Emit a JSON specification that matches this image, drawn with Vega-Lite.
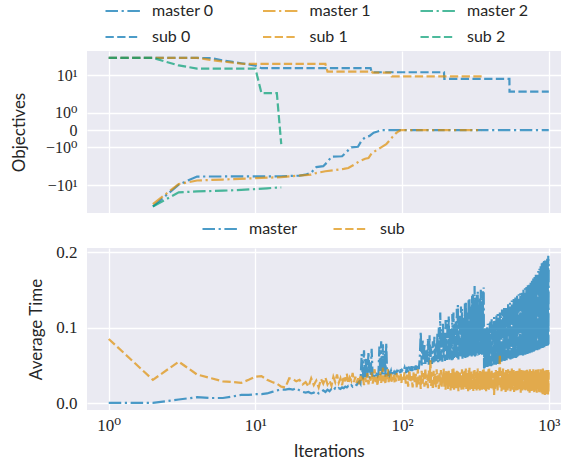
{
  "$schema": "https://vega.github.io/schema/vega-lite/v6.json",
  "background": "white",
  "padding": {"left": 10, "top": 3, "right": 0, "bottom": 0},
  "spacing": 35,
  "bounds": "flush",
  "config": {
    "view": {"fill": "#EAEAF2", "stroke": null},
    "axis": {
      "grid": true, "gridColor": "#ffffff", "gridWidth": 1.3, "domain": false, "ticks": false, "tickSize": 0,
      "labelFont": "Liberation Serif, DejaVu Serif", "labelFontSize": 17, "labelColor": "#262626", "labelPadding": 10,
      "labelOverlap": false, "labelFlush": false, "labelBound": false,
      "titleFont": "Lato", "titleFontSize": 17, "titleFontWeight": "normal", "titleColor": "#262626"
    },
    "legend": {
      "labelFont": "Lato", "labelFontSize": 16, "labelColor": "#262626", "symbolType": "stroke", "symbolSize": 1225,
      "symbolStrokeWidth": 2.2, "symbolOpacity": 0.7, "labelOffset": 10, "rowPadding": 10,
      "clipHeight": 16, "padding": 0, "labelLimit": 300
    }
  },
  "resolve": {"scale": {"color": "independent", "strokeDash": "independent", "x": "independent", "y": "independent"}},
  "vconcat": [
    {
      "width": 476,
      "height": 162,
      "data": {"values": [
        {"s": "s0", "x": 1, "y": 23.8}, {"s": "s0", "x": 2, "y": 23.8}, {"s": "s0", "x": 3, "y": 23.8}, {"s": "s0", "x": 4, "y": 23.8},
        {"s": "s0", "x": 5, "y": 23.6}, {"s": "s0", "x": 6, "y": 21}, {"s": "s0", "x": 7, "y": 19.5}, {"s": "s0", "x": 8, "y": 18.3},
        {"s": "s0", "x": 9, "y": 17.2}, {"s": "s0", "x": 10, "y": 16.2}, {"s": "s0", "x": 11, "y": 14.3}, {"s": "s0", "x": 61, "y": 14.3},
        {"s": "s0", "x": 62, "y": 11.65}, {"s": "s0", "x": 193, "y": 11.65}, {"s": "s0", "x": 194, "y": 8.25}, {"s": "s0", "x": 539, "y": 8.25},
        {"s": "s0", "x": 540, "y": 4.16}, {"s": "s0", "x": 1000, "y": 4.16},
        {"s": "s1", "x": 1, "y": 23.8}, {"s": "s1", "x": 2, "y": 23.8}, {"s": "s1", "x": 3, "y": 23.8}, {"s": "s1", "x": 4, "y": 23.8},
        {"s": "s1", "x": 5, "y": 21.5}, {"s": "s1", "x": 6, "y": 20}, {"s": "s1", "x": 7, "y": 18.8}, {"s": "s1", "x": 8, "y": 17.9},
        {"s": "s1", "x": 9, "y": 17.7}, {"s": "s1", "x": 30, "y": 17.7}, {"s": "s1", "x": 31, "y": 12.0}, {"s": "s1", "x": 62, "y": 12.0},
        {"s": "s1", "x": 63, "y": 11.4}, {"s": "s1", "x": 84, "y": 11.4}, {"s": "s1", "x": 85, "y": 9.4}, {"s": "s1", "x": 350, "y": 9.4},
        {"s": "s2", "x": 1, "y": 23.8}, {"s": "s2", "x": 2, "y": 23.8}, {"s": "s2", "x": 3, "y": 16.4}, {"s": "s2", "x": 4, "y": 14.0},
        {"s": "s2", "x": 10, "y": 14.0}, {"s": "s2", "x": 11, "y": 3.8}, {"s": "s2", "x": 14, "y": 3.8}, {"s": "s2", "x": 15, "y": -0.75},
        {"s": "m0", "x": 2, "y": -29.1}, {"s": "m0", "x": 3, "y": -9.8}, {"s": "m0", "x": 4, "y": -6.4}, {"s": "m0", "x": 10, "y": -6.35},
        {"s": "m0", "x": 15, "y": -6.3}, {"s": "m0", "x": 20, "y": -6.1}, {"s": "m0", "x": 22, "y": -5.8}, {"s": "m0", "x": 24, "y": -5.2},
        {"s": "m0", "x": 26, "y": -3.8}, {"s": "m0", "x": 29, "y": -3.6}, {"s": "m0", "x": 31, "y": -2.8}, {"s": "m0", "x": 33, "y": -2.0},
        {"s": "m0", "x": 39, "y": -1.95}, {"s": "m0", "x": 42, "y": -1.4}, {"s": "m0", "x": 45, "y": -1.0}, {"s": "m0", "x": 50, "y": -0.95},
        {"s": "m0", "x": 53, "y": -0.5}, {"s": "m0", "x": 56, "y": -0.32}, {"s": "m0", "x": 60, "y": -0.25}, {"s": "m0", "x": 64, "y": -0.1},
        {"s": "m0", "x": 68, "y": -0.05}, {"s": "m0", "x": 72, "y": 0}, {"s": "m0", "x": 1000, "y": 0},
        {"s": "m1", "x": 2, "y": -26}, {"s": "m1", "x": 3, "y": -9.5}, {"s": "m1", "x": 4, "y": -7.9}, {"s": "m1", "x": 6, "y": -7.5},
        {"s": "m1", "x": 10, "y": -7.0}, {"s": "m1", "x": 15, "y": -6.6}, {"s": "m1", "x": 19, "y": -6.15}, {"s": "m1", "x": 24, "y": -5.8},
        {"s": "m1", "x": 26, "y": -5.3}, {"s": "m1", "x": 30, "y": -4.8}, {"s": "m1", "x": 35, "y": -4.5}, {"s": "m1", "x": 40, "y": -4.2},
        {"s": "m1", "x": 43, "y": -4.0}, {"s": "m1", "x": 47, "y": -3.3}, {"s": "m1", "x": 51, "y": -2.7}, {"s": "m1", "x": 56, "y": -2.3},
        {"s": "m1", "x": 59, "y": -2.2}, {"s": "m1", "x": 62, "y": -1.6}, {"s": "m1", "x": 67, "y": -1.25}, {"s": "m1", "x": 72, "y": -1.0},
        {"s": "m1", "x": 78, "y": -0.75}, {"s": "m1", "x": 82, "y": -0.5}, {"s": "m1", "x": 86, "y": -0.3}, {"s": "m1", "x": 91, "y": -0.12},
        {"s": "m1", "x": 95, "y": -0.04}, {"s": "m1", "x": 98, "y": 0}, {"s": "m1", "x": 350, "y": 0},
        {"s": "m2", "x": 2, "y": -29.1}, {"s": "m2", "x": 3, "y": -14.5}, {"s": "m2", "x": 4, "y": -13.8}, {"s": "m2", "x": 6, "y": -13.3},
        {"s": "m2", "x": 8, "y": -12.8}, {"s": "m2", "x": 10, "y": -12.3}, {"s": "m2", "x": 12, "y": -11.8}, {"s": "m2", "x": 14, "y": -11.4},
        {"s": "m2", "x": 15, "y": -11.3}
      ]},
      "mark": {"type": "line", "strokeWidth": 2.2, "opacity": 0.7},
      "encoding": {
        "x": {"field": "x", "type": "quantitative", "scale": {"type": "log", "domain": [0.711, 1250], "nice": false},
              "axis": {"values": [1, 10, 100, 1000], "labels": false, "title": null}},
        "y": {"field": "y", "type": "quantitative", "scale": {"type": "symlog", "constant": 0.79, "domain": [-40, 33.4], "nice": false, "zero": false},
              "axis": {"values": [-10, -1, 0, 1, 10], "labelExpr": "datum.value == 10 ? '10¹' : datum.value == 1 ? '10⁰' : datum.value == 0 ? '0' : datum.value == -1 ? '−10⁰' : '−10¹'",
                       "labelFontSize": 16, "title": "Objectives", "titleX": -58.5,
                       "encode": {"labels": {"update": {"dy": {"signal": "datum.value == 1 ? -2.5 : datum.value == -1 ? 2.5 : 0"}}}}}},
        "color": {"field": "s", "type": "nominal",
                  "scale": {"domain": ["m0", "s0", "m1", "s1", "m2", "s2"], "range": ["#0173b2", "#0173b2", "#de8f05", "#de8f05", "#029e73", "#029e73"]},
                  "legend": {"title": null, "orient": "none", "legendX": 17, "legendY": -48, "columns": 3, "columnPadding": 47.5,
                             "labelExpr": "(substring(datum.label,0,1) == 'm' ? 'master ' : 'sub ') + substring(datum.label,1)"}},
        "strokeDash": {"field": "s", "type": "nominal",
                       "scale": {"domain": ["m0", "s0", "m1", "s1", "m2", "s2"], "range": [[12.5, 3.6, 2.2, 3.6], [8.3, 3.4], [12.5, 3.6, 2.2, 3.6], [8.3, 3.4], [12.5, 3.6, 2.2, 3.6], [8.3, 3.4]]},
                       "legend": {"title": null, "orient": "none", "legendX": 17, "legendY": -48, "columns": 3, "columnPadding": 47.5,
                                  "labelExpr": "(substring(datum.label,0,1) == 'm' ? 'master ' : 'sub ') + substring(datum.label,1)"}}
      }
    },
    {
      "width": 476,
      "height": 162,
      "data": {"values": [
        {"x":1,"m":0.0005,"s":0.085},{"x":2,"m":0.0005,"s":0.031},{"x":3,"m":0.005,"s":0.055},{"x":4,"m":0.008,"s":0.038},{"x":5,"m":0.007,"s":0.033},
        {"x":6,"m":0.007,"s":0.029},{"x":7,"m":0.009,"s":0.028},{"x":8,"m":0.011,"s":0.027},{"x":9,"m":0.011,"s":0.031},{"x":10,"m":0.012,"s":0.035},
        {"x":11,"m":0.012,"s":0.036},{"x":12,"m":0.013,"s":0.031},{"x":13,"m":0.015,"s":0.028},{"x":14,"m":0.017,"s":0.026},{"x":15,"m":0.018,"s":0.022},
        {"x":16,"m":0.018,"s":0.021},{"x":17,"m":0.019,"s":0.033},{"x":18,"m":0.018,"s":0.032},{"x":19,"m":0.02,"s":0.029},{"x":20,"m":0.017,"s":0.031},
        {"x":21,"m":0.015,"s":0.025},{"x":22,"m":0.014,"s":0.028},{"x":23,"m":0.015,"s":0.022},{"x":24,"m":0.013,"s":0.033},{"x":25,"m":0.014,"s":0.024},
        {"x":26,"m":0.016,"s":0.03},{"x":27,"m":0.013,"s":0.021},{"x":28,"m":0.015,"s":0.032},{"x":29,"m":0.017,"s":0.026},{"x":30,"m":0.015,"s":0.034},
        {"x":31,"m":0.018,"s":0.025},{"x":32,"m":0.016,"s":0.03},{"x":33,"m":0.019,"s":0.023},{"x":34,"m":0.017,"s":0.035},{"x":35,"m":0.02,"s":0.028},
        {"x":36,"m":0.018,"s":0.038},{"x":37,"m":0.02,"s":0.027},{"x":38,"m":0.019,"s":0.033},{"x":39,"m":0.021,"s":0.024},{"x":40,"m":0.02,"s":0.036},
        {"x":41,"m":0.022,"s":0.029},{"x":42,"m":0.021,"s":0.039},{"x":43,"m":0.023,"s":0.026},{"x":44,"m":0.022,"s":0.034},{"x":45,"m":0.024,"s":0.03},
        {"x":46,"m":0.022,"s":0.04},{"x":47,"m":0.024,"s":0.028},{"x":48,"m":0.025,"s":0.035},{"x":49,"m":0.024,"s":0.027},{"x":50,"m":0.027,"s":0.033},
        {"x":51,"m":0.029,"s":0.025},{"x":52,"m":0.026,"s":0.038},{"x":53,"m":0.065,"s":0.03},{"x":54,"m":0.03,"s":0.036},{"x":55,"m":0.07,"s":0.024},
        {"x":56,"m":0.032,"s":0.034},{"x":57,"m":0.06,"s":0.028},{"x":58,"m":0.035,"s":0.04},{"x":59,"m":0.068,"s":0.025},{"x":60,"m":0.033,"s":0.035},
        {"x":61,"m":0.036,"s":0.03},{"x":62,"m":0.072,"s":0.041},{"x":63,"m":0.035,"s":0.026},{"x":64,"m":0.04,"s":0.033},{"x":65,"m":0.037,"s":0.045},
        {"x":66,"m":0.034,"s":0.028},{"x":67,"m":0.038,"s":0.036},{"x":68,"m":0.036,"s":0.023},{"x":69,"m":0.04,"s":0.038},{"x":70,"m":0.075,"s":0.03},
        {"x":71,"m":0.037,"s":0.042},{"x":72,"m":0.082,"s":0.027},{"x":73,"m":0.036,"s":0.035},{"x":74,"m":0.078,"s":0.047},{"x":75,"m":0.038,"s":0.029},
        {"x":76,"m":0.07,"s":0.037},{"x":77,"m":0.035,"s":0.025},{"x":78,"m":0.08,"s":0.04},{"x":79,"m":0.04,"s":0.032},{"x":80,"m":0.038,"s":0.045},
        {"x":81,"m":0.041,"s":0.028},{"x":82,"m":0.037,"s":0.036},{"x":83,"m":0.04,"s":0.03},{"x":84,"m":0.043,"s":0.041},{"x":85,"m":0.038,"s":0.027},
        {"x":86,"m":0.042,"s":0.035},{"x":87,"m":0.039,"s":0.031},{"x":88,"m":0.041,"s":0.038},{"x":89,"m":0.038,"s":0.026},{"x":90,"m":0.043,"s":0.034},
        {"x":91,"m":0.04,"s":0.029},{"x":92,"m":0.042,"s":0.04},{"x":93,"m":0.039,"s":0.032},{"x":94,"m":0.044,"s":0.037},{"x":95,"m":0.041,"s":0.028},
        {"x":96,"m":0.043,"s":0.036},{"x":97,"m":0.04,"s":0.03},{"x":98,"m":0.045,"s":0.039},{"x":99,"m":0.041,"s":0.027},{"x":100,"m":0.044,"s":0.035},
        {"x":102,"m":0.042,"s":0.03},{"x":104,"m":0.047,"s":0.041},{"x":106,"m":0.04,"s":0.026},{"x":108,"m":0.048,"s":0.038},{"x":110,"m":0.041,"s":0.022},
        {"x":112,"m":0.05,"s":0.044},{"x":114,"m":0.043,"s":0.028},{"x":116,"m":0.049,"s":0.036},{"x":118,"m":0.042,"s":0.021},{"x":120,"m":0.051,"s":0.042},
        {"x":122,"m":0.044,"s":0.027},{"x":124,"m":0.05,"s":0.039},{"x":126,"m":0.043,"s":0.02},{"x":128,"m":0.052,"s":0.045},{"x":130,"m":0.045,"s":0.025},
        {"x":132,"m":0.06,"s":0.037},{"x":134,"m":0.095,"s":0.019},{"x":136,"m":0.05,"s":0.043},{"x":138,"m":0.085,"s":0.026},{"x":140,"m":0.052,"s":0.04},
        {"x":142,"m":0.078,"s":0.022},{"x":144,"m":0.05,"s":0.046},{"x":146,"m":0.07,"s":0.024},{"x":148,"m":0.053,"s":0.038},{"x":150,"m":0.085,"s":0.02},
        {"x":152,"m":0.051,"s":0.044},{"x":154,"m":0.09,"s":0.027},{"x":156,"m":0.055,"s":0.057},{"x":158,"m":0.075,"s":0.023},{"x":160,"m":0.052,"s":0.041},
        {"x":162,"m":0.082,"s":0.018},{"x":164,"m":0.054,"s":0.043},{"x":166,"m":0.088,"s":0.025},{"x":168,"m":0.053,"s":0.039},{"x":170,"m":0.078,"s":0.021},
        {"x":172,"m":0.056,"s":0.045},{"x":174,"m":0.092,"s":0.026},{"x":176,"m":0.054,"s":0.037},{"x":178,"m":0.1,"s":0.019},{"x":180,"m":0.055,"s":0.042},
        {"x":182,"m":0.12,"s":0.024},{"x":184,"m":0.057,"s":0.044},{"x":186,"m":0.098,"s":0.02},{"x":188,"m":0.055,"s":0.038},{"x":190,"m":0.105,"s":0.027},
        {"x":192,"m":0.058,"s":0.046},{"x":194,"m":0.095,"s":0.022},{"x":196,"m":0.056,"s":0.04},{"x":198,"m":0.11,"s":0.018},{"x":200,"m":0.058,"s":0.043},
        {"x":202,"m":0.057,"s":0.024},{"x":204,"m":0.11,"s":0.042},{"x":206,"m":0.058,"s":0.019},{"x":208,"m":0.115,"s":0.043},{"x":210,"m":0.056,"s":0.022},
        {"x":212,"m":0.095,"s":0.039},{"x":214,"m":0.059,"s":0.017},{"x":216,"m":0.1,"s":0.04},{"x":218,"m":0.057,"s":0.023},{"x":220,"m":0.118,"s":0.045},
        {"x":222,"m":0.058,"s":0.02},{"x":224,"m":0.12,"s":0.046},{"x":226,"m":0.06,"s":0.018},{"x":228,"m":0.105,"s":0.041},{"x":230,"m":0.059,"s":0.025},
        {"x":232,"m":0.108,"s":0.038},{"x":234,"m":0.061,"s":0.019},{"x":236,"m":0.125,"s":0.043},{"x":238,"m":0.06,"s":0.024},{"x":240,"m":0.13,"s":0.044},
        {"x":242,"m":0.058,"s":0.016},{"x":244,"m":0.112,"s":0.04},{"x":246,"m":0.061,"s":0.021},{"x":248,"m":0.118,"s":0.041},{"x":250,"m":0.06,"s":0.026},
        {"x":252,"m":0.128,"s":0.037},{"x":254,"m":0.062,"s":0.018},{"x":256,"m":0.125,"s":0.045},{"x":258,"m":0.059,"s":0.022},{"x":260,"m":0.115,"s":0.042},
        {"x":262,"m":0.061,"s":0.017},{"x":264,"m":0.11,"s":0.039},{"x":266,"m":0.062,"s":0.024},{"x":268,"m":0.132,"s":0.043},{"x":270,"m":0.06,"s":0.02},
        {"x":272,"m":0.135,"s":0.046},{"x":274,"m":0.063,"s":0.019},{"x":276,"m":0.118,"s":0.04},{"x":278,"m":0.061,"s":0.023},{"x":280,"m":0.12,"s":0.038},
        {"x":282,"m":0.062,"s":0.016},{"x":284,"m":0.138,"s":0.044},{"x":286,"m":0.063,"s":0.025},{"x":288,"m":0.14,"s":0.047},{"x":290,"m":0.061,"s":0.018},
        {"x":292,"m":0.125,"s":0.041},{"x":294,"m":0.064,"s":0.021},{"x":296,"m":0.128,"s":0.042},{"x":298,"m":0.062,"s":0.019},{"x":300,"m":0.142,"s":0.039},
        {"x":302,"m":0.064,"s":0.024},{"x":304,"m":0.145,"s":0.038},{"x":306,"m":0.063,"s":0.016},{"x":308,"m":0.13,"s":0.043},{"x":310,"m":0.065,"s":0.022},
        {"x":312,"m":0.155,"s":0.044},{"x":314,"m":0.062,"s":0.018},{"x":316,"m":0.14,"s":0.04},{"x":318,"m":0.064,"s":0.024},{"x":320,"m":0.13,"s":0.041},
        {"x":322,"m":0.066,"s":0.017},{"x":324,"m":0.145,"s":0.042},{"x":326,"m":0.063,"s":0.021},{"x":328,"m":0.148,"s":0.046},{"x":330,"m":0.065,"s":0.019},
        {"x":332,"m":0.132,"s":0.04},{"x":334,"m":0.064,"s":0.023},{"x":336,"m":0.125,"s":0.039},{"x":338,"m":0.066,"s":0.017},{"x":340,"m":0.14,"s":0.043},
        {"x":342,"m":0.065,"s":0.02},{"x":344,"m":0.15,"s":0.043},{"x":346,"m":0.067,"s":0.024},{"x":348,"m":0.138,"s":0.038},{"x":350,"m":0.064,"s":0.018},
        {"x":352,"m":0.135,"s":0.04},{"x":354,"m":0.066,"s":0.022},{"x":356,"m":0.148,"s":0.044},{"x":358,"m":0.067,"s":0.019},{"x":360,"m":0.153,"s":0.045},
        {"x":362,"m":0.046,"s":0.025},{"x":364,"m":0.098,"s":0.041},{"x":366,"m":0.047,"s":0.018},{"x":368,"m":0.1,"s":0.042},{"x":370,"m":0.048,"s":0.021},
        {"x":372,"m":0.094,"s":0.039},{"x":374,"m":0.047,"s":0.016},{"x":376,"m":0.095,"s":0.044},{"x":378,"m":0.049,"s":0.023},{"x":380,"m":0.102,"s":0.04},
        {"x":382,"m":0.048,"s":0.019},{"x":384,"m":0.105,"s":0.039},{"x":386,"m":0.05,"s":0.024},{"x":388,"m":0.099,"s":0.045},{"x":390,"m":0.049,"s":0.018},
        {"x":392,"m":0.1,"s":0.047},{"x":394,"m":0.051,"s":0.021},{"x":396,"m":0.106,"s":0.04},{"x":398,"m":0.05,"s":0.02},{"x":400,"m":0.108,"s":0.041},
        {"x":404,"m":0.049,"s":0.021},{"x":408,"m":0.112,"s":0.043},{"x":412,"m":0.05,"s":0.018},{"x":416,"m":0.106,"s":0.04},{"x":420,"m":0.05,"s":0.023},
        {"x":424,"m":0.114,"s":0.011},{"x":428,"m":0.051,"s":0.041},{"x":432,"m":0.109,"s":0.019},{"x":436,"m":0.051,"s":0.044},{"x":440,"m":0.116,"s":0.022},
        {"x":444,"m":0.052,"s":0.039},{"x":448,"m":0.118,"s":0.017},{"x":452,"m":0.052,"s":0.045},{"x":456,"m":0.111,"s":0.024},{"x":460,"m":0.053,"s":0.042},
        {"x":464,"m":0.12,"s":0.065},{"x":468,"m":0.054,"s":0.02},{"x":472,"m":0.115,"s":0.043},{"x":476,"m":0.054,"s":0.016},{"x":480,"m":0.124,"s":0.04},
        {"x":484,"m":0.055,"s":0.022},{"x":488,"m":0.118,"s":0.046},{"x":492,"m":0.056,"s":0.018},{"x":496,"m":0.126,"s":0.041},{"x":500,"m":0.056,"s":0.023},
        {"x":504,"m":0.12,"s":0.038},{"x":508,"m":0.057,"s":0.015},{"x":512,"m":0.128,"s":0.044},{"x":516,"m":0.057,"s":0.021},{"x":520,"m":0.123,"s":0.042},
        {"x":524,"m":0.058,"s":0.017},{"x":528,"m":0.131,"s":0.045},{"x":532,"m":0.058,"s":0.024},{"x":536,"m":0.125,"s":0.039},{"x":540,"m":0.059,"s":0.019},
        {"x":544,"m":0.133,"s":0.043},{"x":548,"m":0.058,"s":0.016},{"x":552,"m":0.128,"s":0.041},{"x":556,"m":0.06,"s":0.022},{"x":560,"m":0.136,"s":0.046},
        {"x":564,"m":0.059,"s":0.018},{"x":568,"m":0.13,"s":0.04},{"x":572,"m":0.06,"s":0.023},{"x":576,"m":0.138,"s":0.044},{"x":580,"m":0.06,"s":0.015},
        {"x":584,"m":0.132,"s":0.042},{"x":588,"m":0.061,"s":0.02},{"x":592,"m":0.14,"s":0.039},{"x":596,"m":0.06,"s":0.017},{"x":600,"m":0.134,"s":0.045},
        {"x":604,"m":0.061,"s":0.024},{"x":608,"m":0.142,"s":0.041},{"x":612,"m":0.062,"s":0.016},{"x":616,"m":0.136,"s":0.043},{"x":620,"m":0.061,"s":0.021},
        {"x":624,"m":0.144,"s":0.04},{"x":628,"m":0.062,"s":0.018},{"x":632,"m":0.138,"s":0.046},{"x":636,"m":0.063,"s":0.022},{"x":640,"m":0.146,"s":0.038},
        {"x":644,"m":0.062,"s":0.014},{"x":648,"m":0.14,"s":0.044},{"x":652,"m":0.063,"s":0.02},{"x":656,"m":0.148,"s":0.041},{"x":660,"m":0.064,"s":0.017},
        {"x":664,"m":0.142,"s":0.045},{"x":668,"m":0.063,"s":0.023},{"x":672,"m":0.15,"s":0.039},{"x":676,"m":0.064,"s":0.016},{"x":680,"m":0.145,"s":0.043},
        {"x":684,"m":0.065,"s":0.021},{"x":688,"m":0.152,"s":0.04},{"x":692,"m":0.064,"s":0.015},{"x":696,"m":0.147,"s":0.044},{"x":700,"m":0.065,"s":0.022},
        {"x":704,"m":0.154,"s":0.042},{"x":708,"m":0.066,"s":0.018},{"x":712,"m":0.149,"s":0.046},{"x":716,"m":0.065,"s":0.02},{"x":720,"m":0.156,"s":0.039},
        {"x":724,"m":0.066,"s":0.016},{"x":728,"m":0.151,"s":0.043},{"x":732,"m":0.067,"s":0.023},{"x":736,"m":0.158,"s":0.041},{"x":740,"m":0.066,"s":0.014},
        {"x":744,"m":0.153,"s":0.045},{"x":748,"m":0.067,"s":0.019},{"x":752,"m":0.16,"s":0.04},{"x":756,"m":0.068,"s":0.021},{"x":760,"m":0.155,"s":0.044},
        {"x":764,"m":0.067,"s":0.015},{"x":768,"m":0.162,"s":0.042},{"x":772,"m":0.068,"s":0.022},{"x":776,"m":0.157,"s":0.038},{"x":780,"m":0.069,"s":0.017},
        {"x":784,"m":0.165,"s":0.045},{"x":788,"m":0.068,"s":0.02},{"x":792,"m":0.16,"s":0.041},{"x":796,"m":0.069,"s":0.013},{"x":800,"m":0.167,"s":0.043},
        {"x":804,"m":0.07,"s":0.021},{"x":808,"m":0.162,"s":0.04},{"x":812,"m":0.069,"s":0.016},{"x":816,"m":0.17,"s":0.046},{"x":820,"m":0.07,"s":0.022},
        {"x":824,"m":0.165,"s":0.039},{"x":828,"m":0.071,"s":0.014},{"x":832,"m":0.172,"s":0.044},{"x":836,"m":0.07,"s":0.019},{"x":840,"m":0.168,"s":0.042},
        {"x":844,"m":0.071,"s":0.017},{"x":848,"m":0.175,"s":0.045},{"x":852,"m":0.072,"s":0.021},{"x":856,"m":0.17,"s":0.038},{"x":860,"m":0.071,"s":0.013},
        {"x":864,"m":0.178,"s":0.043},{"x":868,"m":0.072,"s":0.02},{"x":872,"m":0.174,"s":0.041},{"x":876,"m":0.073,"s":0.016},{"x":880,"m":0.181,"s":0.045},
        {"x":884,"m":0.072,"s":0.022},{"x":888,"m":0.177,"s":0.04},{"x":892,"m":0.073,"s":0.014},{"x":896,"m":0.185,"s":0.044},{"x":900,"m":0.074,"s":0.019},
        {"x":904,"m":0.179,"s":0.042},{"x":908,"m":0.073,"s":0.012},{"x":912,"m":0.186,"s":0.046},{"x":916,"m":0.074,"s":0.02},{"x":920,"m":0.181,"s":0.039},
        {"x":924,"m":0.075,"s":0.015},{"x":928,"m":0.188,"s":0.043},{"x":932,"m":0.074,"s":0.021},{"x":936,"m":0.183,"s":0.041},{"x":940,"m":0.075,"s":0.011},
        {"x":944,"m":0.189,"s":0.045},{"x":948,"m":0.076,"s":0.018},{"x":952,"m":0.184,"s":0.04},{"x":956,"m":0.075,"s":0.013},{"x":960,"m":0.19,"s":0.044},
        {"x":964,"m":0.076,"s":0.02},{"x":968,"m":0.186,"s":0.042},{"x":972,"m":0.077,"s":0.012},{"x":976,"m":0.191,"s":0.045},{"x":980,"m":0.076,"s":0.017},
        {"x":984,"m":0.188,"s":0.039},{"x":988,"m":0.077,"s":0.01},{"x":992,"m":0.195,"s":0.044},{"x":996,"m":0.078,"s":0.015},{"x":1000,"m":0.19,"s":0.041}
      ]},
      "transform": [{"fold": ["m", "s"], "as": ["k", "t"]}],
      "mark": {"type": "line", "strokeWidth": 2.2, "opacity": 0.7, "clip": true},
      "encoding": {
        "x": {"field": "x", "type": "quantitative", "scale": {"type": "log", "domain": [0.711, 1250], "nice": false},
              "axis": {"values": [1, 10, 100, 1000], "labelExpr": "datum.value == 1 ? '10⁰' : datum.value == 10 ? '10¹' : datum.value == 100 ? '10²' : '10³'",
                       "labelPadding": 7, "title": "Iterations", "titleX": 241.7, "titleY": 46, "titleBaseline": "alphabetic"}},
        "y": {"field": "t", "type": "quantitative", "scale": {"domain": [-0.0089, 0.2053], "nice": false, "zero": false},
              "axis": {"values": [0, 0.1, 0.2], "format": ".1f", "title": "Average Time", "titleX": -41.7}},
        "color": {"field": "k", "type": "nominal", "scale": {"domain": ["m", "s"], "range": ["#0173b2", "#de8f05"]},
                  "legend": {"title": null, "orient": "none", "legendX": 114, "legendY": -27, "columns": 2, "columnPadding": 34,
                             "labelExpr": "datum.label == 'm' ? 'master' : 'sub'"}},
        "strokeDash": {"field": "k", "type": "nominal", "scale": {"domain": ["m", "s"], "range": [[12.5, 3.6, 2.2, 3.6], [8.3, 3.4]]},
                       "legend": {"title": null, "orient": "none", "legendX": 114, "legendY": -27, "columns": 2, "columnPadding": 34,
                                  "labelExpr": "datum.label == 'm' ? 'master' : 'sub'"}}
      }
    }
  ]
}
